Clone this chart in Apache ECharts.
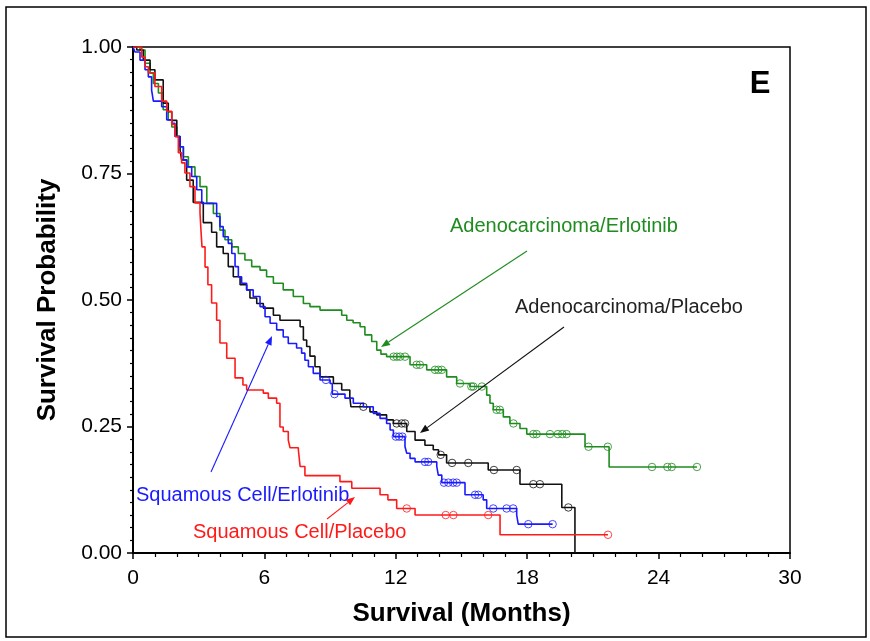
<!DOCTYPE html>
<html>
<head>
<meta charset="utf-8">
<script src="https://cdn.jsdelivr.net/npm/echarts@6/dist/echarts.min.js"></script>
<style>
html,body{margin:0;padding:0;background:#fff;}
#chart{width:870px;height:641px;}
</style>
</head>
<body>
<div id="chart"></div>
<script>
// ---- Data ----
const xTicks = [0, 6, 12, 18, 24, 30];
const yTicks = [0.00, 0.25, 0.50, 0.75, 1.00];

// Adenocarcinoma/Erlotinib (green)
const adErlT = [0,0.32,0.55,0.78,0.93,1.16,1.38,1.61,1.77,2.0,2.15,2.30,2.53,2.83,3.06,3.37,3.67,3.97,4.20,4.51,4.81,5.11,5.42,5.80,6.10,6.41,6.86,7.32,7.78,8.08,8.54,9.53,9.76,10.05,10.37,10.59,10.90,11.13,11.32,11.58,12.65,13.41,14.32,14.78,15.39,16.15,16.30,16.45,16.91,17.21,17.67,17.98,20.64,21.74,25.75];
const adErlS = [1.0,0.994,0.968,0.948,0.928,0.909,0.876,0.856,0.842,0.823,0.803,0.783,0.763,0.744,0.724,0.691,0.671,0.638,0.619,0.605,0.592,0.579,0.566,0.559,0.546,0.533,0.520,0.507,0.493,0.487,0.480,0.470,0.460,0.455,0.447,0.431,0.418,0.401,0.393,0.388,0.372,0.362,0.348,0.335,0.329,0.312,0.296,0.283,0.269,0.256,0.246,0.235,0.210,0.170,0.170];
const adErlCens = [11.9,12.05,12.2,12.42,12.95,13.1,13.79,13.94,14.1,14.93,15.45,15.54,15.93,16.6,16.75,17.37,18.28,18.43,19.04,19.4,19.6,19.8,20.8,21.68,23.7,24.4,24.6,25.75];

// Adenocarcinoma/Placebo (black)
const adPlaT = [0,0.17,0.47,0.78,1.0,1.38,1.61,1.77,2.0,2.15,2.22,2.45,2.75,3.21,3.59,3.82,4.12,4.35,4.58,4.89,5.19,5.34,5.65,5.95,6.41,6.71,7.63,7.78,7.93,8.08,8.31,8.54,9.15,9.53,9.90,9.95,10.82,11.13,11.58,11.89,12.50,12.88,13.33,13.71,13.95,14.32,16.22,17.67,19.58,20.18];
const adPlaS = [1.0,0.994,0.974,0.955,0.935,0.889,0.872,0.855,0.823,0.796,0.777,0.737,0.693,0.653,0.634,0.605,0.592,0.566,0.546,0.530,0.520,0.504,0.493,0.484,0.470,0.460,0.447,0.421,0.408,0.389,0.368,0.348,0.335,0.322,0.309,0.289,0.279,0.273,0.263,0.256,0.240,0.223,0.213,0.204,0.194,0.178,0.164,0.136,0.090,0.0];
const adPlaCens = [10.52,12.04,12.27,12.42,14.05,14.57,15.31,16.48,17.52,18.28,18.58,19.88];

// Squamous Cell/Erlotinib (blue)
const sqErlT = [0,0.09,0.32,0.55,0.70,0.85,0.93,1.31,1.54,1.77,1.92,2.15,2.30,2.45,2.68,2.91,3.14,3.82,3.97,4.12,4.35,4.51,4.66,4.81,4.96,5.19,5.49,5.80,6.03,6.26,6.56,6.86,7.09,7.47,7.70,7.85,8.01,8.23,8.54,9.0,9.10,9.68,10.06,10.52,10.97,11.28,11.58,11.74,11.89,12.42,12.50,12.65,12.88,13.87,13.94,14.10,15.16,15.99,16.15,17.52,17.59,19.16];
const sqErlS = [1.0,0.99,0.974,0.955,0.941,0.915,0.893,0.882,0.856,0.849,0.823,0.803,0.777,0.763,0.744,0.718,0.691,0.665,0.645,0.625,0.612,0.592,0.566,0.546,0.533,0.520,0.507,0.487,0.467,0.454,0.441,0.427,0.414,0.405,0.395,0.381,0.368,0.355,0.342,0.335,0.314,0.306,0.296,0.289,0.276,0.266,0.256,0.243,0.230,0.210,0.197,0.187,0.180,0.171,0.154,0.139,0.115,0.105,0.088,0.075,0.057,0.057];
const sqErlCens = [8.81,9.2,12.0,12.15,12.3,13.33,13.48,14.2,14.4,14.62,14.78,15.62,15.77,16.45,17.06,17.36,18.05,19.16];

// Squamous Cell/Placebo (red)
const sqPlaT = [0,0.40,0.55,0.70,1.00,1.31,1.54,1.77,1.92,2.07,2.22,2.37,2.60,2.83,3.06,3.10,3.15,3.29,3.42,3.59,3.82,3.97,4.28,4.66,5.02,5.19,5.95,6.18,6.56,6.71,6.86,7.09,7.17,7.55,7.63,7.85,9.45,9.99,11.28,11.64,12.04,12.88,16.76,21.69];
const sqPlaS = [1.0,0.98,0.961,0.949,0.922,0.893,0.873,0.847,0.823,0.791,0.771,0.751,0.724,0.692,0.672,0.640,0.605,0.565,0.530,0.494,0.460,0.415,0.385,0.346,0.332,0.322,0.316,0.306,0.296,0.249,0.240,0.223,0.208,0.204,0.171,0.153,0.141,0.128,0.115,0.105,0.088,0.075,0.036,0.036];
const sqPlaCens = [12.5,14.28,14.63,16.22,21.69];

const groupNames = ['Adenocarcinoma/Erlotinib','Adenocarcinoma/Placebo','Squamous Cell/Erlotinib','Squamous Cell/Placebo'];
const groupColors = ['#1e8c1e','#111111','#1a1aff','#ff1a1a'];

// ---- Build ----
function pairs(t, s){ return t.map((v,i)=>[v, s[i]]); }
function stepAt(t, s, x){ let v = s[0]; for(let i=0;i<t.length;i++){ if(t[i] <= x) v = s[i]; } return v; }
function cens(t, s, c){ return c.map(x => [x, stepAt(t, s, x)]); }

const groups = [
  [adErlT, adErlS, adErlCens],
  [adPlaT, adPlaS, adPlaCens],
  [sqErlT, sqErlS, sqErlCens],
  [sqPlaT, sqPlaS, sqPlaCens]
];

const FONT = '"Liberation Sans", Arial, Helvetica, sans-serif';
const series = [];
groups.forEach((g, i) => {
  series.push({
    name: groupNames[i], type: 'line', step: 'end', data: pairs(g[0], g[1]),
    showSymbol: false, symbol: 'none', silent: true,
    lineStyle: { color: groupColors[i], width: 1.6 }, z: 3
  });
  series.push({
    name: groupNames[i] + ' censored', type: 'scatter', data: cens(g[0], g[1], g[2]),
    symbol: 'circle', symbolSize: 7.5, silent: true,
    itemStyle: { color: 'rgba(255,255,255,0)', borderColor: groupColors[i], borderWidth: 1, opacity: 0.8 }, z: 4
  });
});

function arrow(x1, y1, x2, y2, color){
  const a = Math.atan2(y2 - y1, x2 - x1);
  const L = 9, W = 3.5;
  const bx = x2 - L * Math.cos(a), by = y2 - L * Math.sin(a);
  const px = -Math.sin(a) * W, py = Math.cos(a) * W;
  return [
    { type: 'line', shape: { x1: x1, y1: y1, x2: bx, y2: by }, style: { stroke: color, lineWidth: 1.1 }, z: 10 },
    { type: 'polygon', shape: { points: [[x2, y2], [bx + px, by + py], [bx - px, by - py]] }, style: { fill: color }, z: 10 }
  ];
}
function label(text, x, y, color){
  return { type: 'text', x: x, y: y, z: 10, style: { text: text, fill: color, font: '20px ' + FONT, align: 'left', verticalAlign: 'middle' } };
}

const graphics = [
  { type: 'rect', shape: { x: 6, y: 7, width: 860, height: 630 }, style: { fill: 'none', stroke: '#000', lineWidth: 1.5 }, z: 0 },
  { type: 'text', x: 760, y: 84, z: 10, style: { text: 'E', fill: '#000', font: 'bold 31px ' + FONT, align: 'center', verticalAlign: 'middle' } },
  label(groupNames[0], 450, 226, groupColors[0]),
  label(groupNames[1], 515, 307, '#222'),
  label(groupNames[2], 136, 495, groupColors[2]),
  label(groupNames[3], 193, 532, groupColors[3])
].concat(
  arrow(527, 251, 381, 347, groupColors[0]),
  arrow(564, 327, 420, 433, '#111'),
  arrow(211, 472, 272, 336, groupColors[2]),
  arrow(327, 519, 355, 497, groupColors[3])
);

const chart = echarts.init(document.getElementById('chart'), null, { renderer: 'canvas' });
chart.setOption({
  animation: false,
  backgroundColor: '#fff',
  grid: { left: 133, top: 47, width: 657, height: 506, show: true, borderColor: '#000', borderWidth: 1.5, backgroundColor: 'transparent' },
  xAxis: {
    type: 'value', min: xTicks[0], max: xTicks[xTicks.length - 1], interval: 6,
    name: 'Survival (Months)', nameLocation: 'middle', nameGap: 48,
    nameTextStyle: { fontFamily: FONT, fontWeight: 'bold', fontSize: 26, color: '#000' },
    axisLine: { show: true, lineStyle: { color: '#000', width: 2 } },
    axisTick: { show: true, length: 6, inside: false, lineStyle: { color: '#000', width: 1.5 } },
    minorTick: { show: true, splitNumber: 6, length: 4, lineStyle: { color: '#000', width: 1.2 } },
    axisLabel: { fontFamily: FONT, fontSize: 21, color: '#000', margin: 15, formatter: v => String(v) },
    splitLine: { show: false }
  },
  yAxis: {
    type: 'value', min: yTicks[0], max: yTicks[yTicks.length - 1], interval: 0.25,
    name: 'Survival Probability', nameLocation: 'middle', nameGap: 72,
    nameTextStyle: { fontFamily: FONT, fontWeight: 'bold', fontSize: 26, color: '#000' },
    axisLine: { show: true, lineStyle: { color: '#000', width: 2 } },
    axisTick: { show: true, length: 6, inside: false, lineStyle: { color: '#000', width: 1.5 } },
    minorTick: { show: true, splitNumber: 10, length: 3, lineStyle: { color: '#000', width: 1.2 } },
    axisLabel: { fontFamily: FONT, fontSize: 21, color: '#000', margin: 11, formatter: v => v.toFixed(2) },
    splitLine: { show: false }
  },
  series: series,
  graphic: graphics
});
</script>
</body>
</html>
